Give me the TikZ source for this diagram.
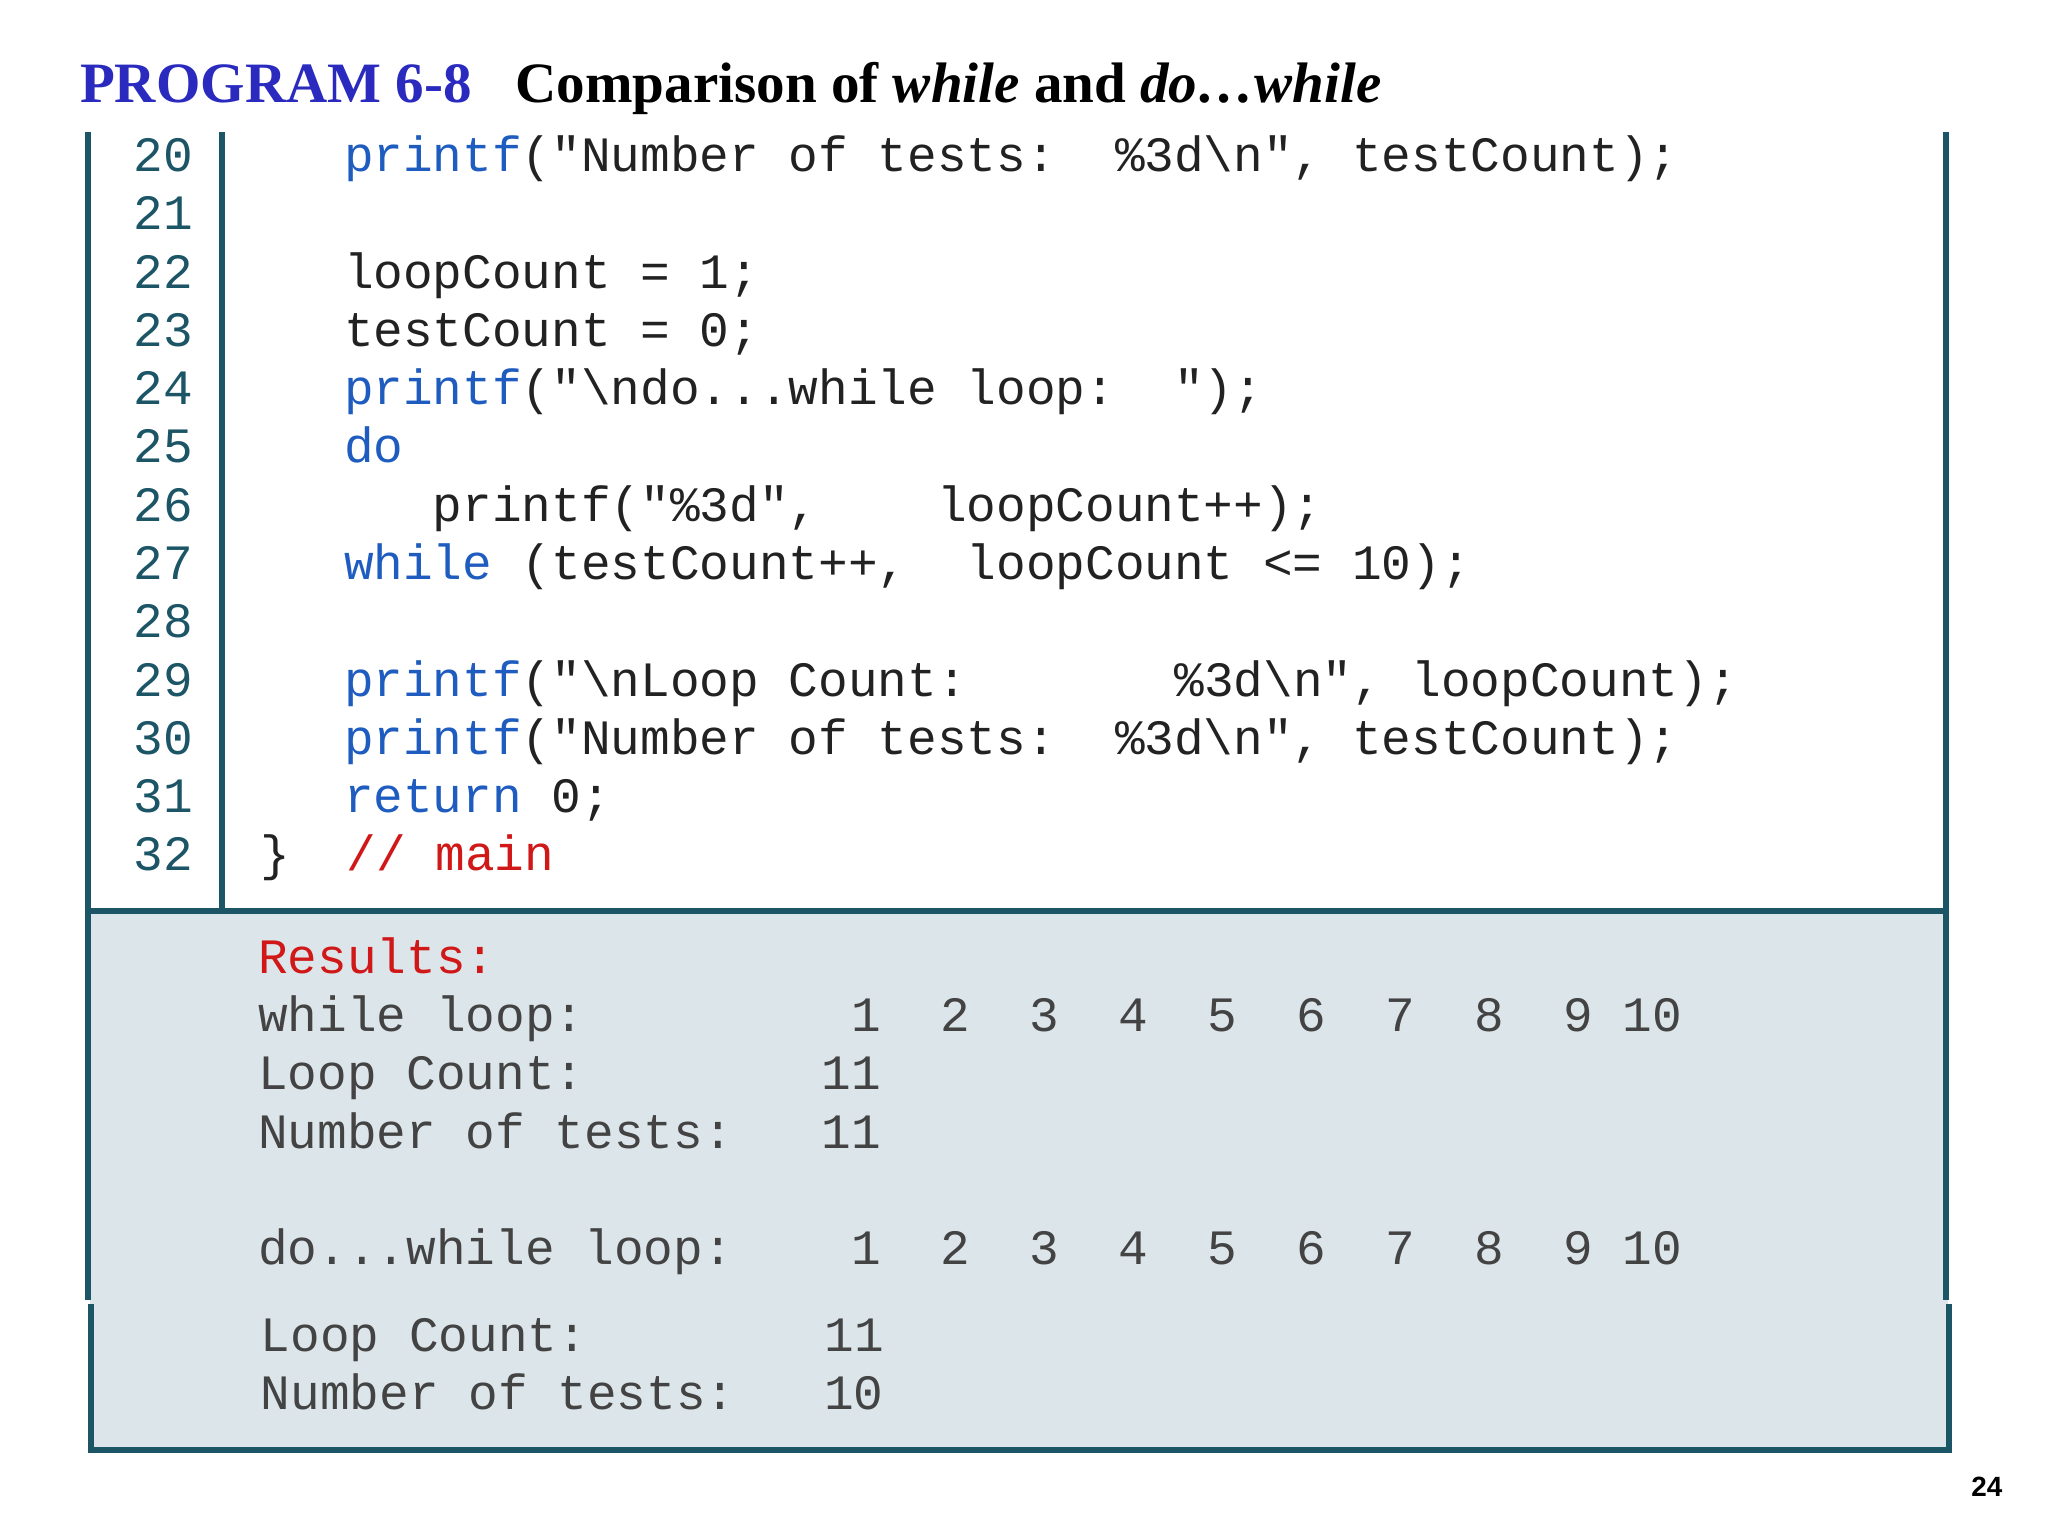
\documentclass[tikz,border=0pt]{standalone}
\usepackage{fontspec}
\setmainfont{Liberation Serif}
\setmonofont{Liberation Mono}
\newfontfamily\pgsans{Liberation Sans}
\definecolor{frame}{HTML}{1C5566}
\definecolor{shadebg}{HTML}{DCE6EA}
\definecolor{kw}{HTML}{1F5CBF}
\definecolor{tx}{HTML}{222222}
\definecolor{cm}{HTML}{D01818}
\definecolor{ttl}{HTML}{2A2ABF}
\begin{document}
\begin{tikzpicture}[x=0.01cm,y=-0.01cm,
  code/.style={anchor=base west,inner sep=0,font=\fontsize{10.65pt}{12pt}\ttfamily,text=tx},
  num/.style={anchor=base east,inner sep=0,font=\fontsize{10.65pt}{12pt}\ttfamily,text=frame},
  res/.style={anchor=base west,inner sep=0,font=\fontsize{10.65pt}{12pt}\ttfamily,text=tx!85},
  frm/.style={draw=frame,line width=1.3pt}]
\useasboundingbox (0,0) rectangle (1552,1164);
\fill[shadebg] (68,690) rectangle (1476,1099);
\draw[frm] (67,100) -- (67,985);
\draw[frm] (69,988) -- (69,1099) -- (1477,1099) -- (1477,988);
\draw[frm] (1475,985) -- (1475,100);
\draw[frm] (168,100) -- (168,690);
\draw[frm] (67,690) -- (1477,690);
\node[anchor=base west,inner sep=0,font=\fontsize{12.3pt}{14pt}\bfseries,text=ttl] (t1) at (60,78) {PROGRAM 6-8};
\node[anchor=base west,inner sep=0,font=\fontsize{12.3pt}{14pt}\bfseries,text=black] (t2) at (390,78) {Comparison of \textit{while} and \textit{do…while}};
\foreach \n [count=\i from 0] in {20,...,32}{
  \node[num] (n\n) at (147,130+44.17*\i) {\n};
}
\def\Y#1{130+44.17*(#1-20)}
\node[code] (c20) at (260,{\Y{20}}) {\textcolor{kw}{printf}("Number of tests:\ \ \%3d\textbackslash n", testCount);};
\node[code] (c22) at (260,{\Y{22}}) {loopCount = 1;};
\node[code] (c23) at (260,{\Y{23}}) {testCount = 0;};
\node[code] (c24) at (260,{\Y{24}}) {\textcolor{kw}{printf}("\textbackslash ndo...while loop:\ \ ");};
\node[code] (c25) at (260,{\Y{25}}) {\textcolor{kw}{do}};
\node[code] (c26) at (260,{\Y{26}}) {\ \ \ printf("\%3d",\ \ \ \ loopCount++);};
\node[code] (c27) at (260,{\Y{27}}) {\textcolor{kw}{while} (testCount++,\ \ loopCount <= 10);};
\node[code] (c29) at (260,{\Y{29}}) {\textcolor{kw}{printf}("\textbackslash nLoop Count:\ \ \ \ \ \ \ \%3d\textbackslash n", loopCount);};
\node[code] (c30) at (260,{\Y{30}}) {\textcolor{kw}{printf}("Number of tests:\ \ \%3d\textbackslash n", testCount);};
\node[code] (c31) at (260,{\Y{31}}) {\textcolor{kw}{return} 0;};
\node[code] (c32a) at (197,{\Y{32}}) {\}};
\node[code,text=cm] (c32) at (262,{\Y{32}}) {// main};
\node[res,text=cm] (r0) at (195,738) {Results:};
\node[res] (r1) at (195,782) {while loop:\ \ \ \ \ \ \ \ \ 1\ \ 2\ \ 3\ \ 4\ \ 5\ \ 6\ \ 7\ \ 8\ \ 9 10};
\node[res] (r2) at (195,826) {Loop Count:\ \ \ \ \ \ \ \ 11};
\node[res] (r3) at (195,870) {Number of tests:\ \ \ 11};
\node[res] (r4) at (195,958) {do...while loop:\ \ \ \ 1\ \ 2\ \ 3\ \ 4\ \ 5\ \ 6\ \ 7\ \ 8\ \ 9 10};
\node[res] (r5) at (197,1024) {Loop Count:\ \ \ \ \ \ \ \ 11};
\node[res] (r6) at (197,1068) {Number of tests:\ \ \ 10};
\node[anchor=base east,inner sep=0,font=\fontsize{6pt}{7pt}\pgsans\bfseries] (pg) at (1518,1134) {24};
\end{tikzpicture}
\end{document}
